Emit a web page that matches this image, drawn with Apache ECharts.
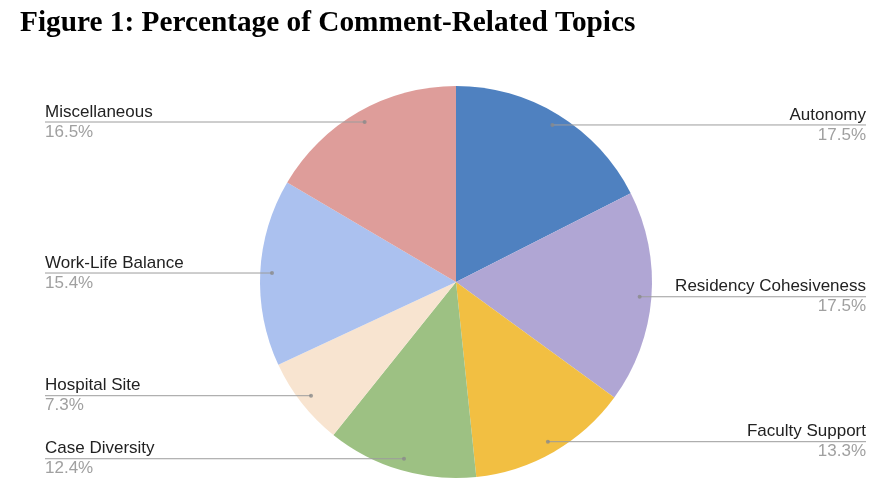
<!DOCTYPE html>
<html><head><meta charset="utf-8">
<script src="https://cdn.jsdelivr.net/npm/echarts@6/dist/echarts.min.js"></script>
<style>html,body{margin:0;padding:0;background:#fff}#c{width:896px;height:488px}</style>
</head><body><div id="c"></div>
<script>
var categories = ['Autonomy','Residency Cohesiveness','Faculty Support','Case Diversity','Hospital Site','Work-Life Balance','Miscellaneous'];
var values = [17.5, 17.5, 13.3, 12.4, 7.3, 15.4, 16.5];
var colors = ['#4f81c0','#b0a6d4','#f2bf42','#9dc183','#f8e4d0','#abc1ef','#de9d9a'];

var cx = 456, cy = 282, R = 196, DOT_R = 0.94;
var total = values.reduce(function(a,b){return a+b;},0);
var mids = []; var midPct = []; var acc = 0;
values.forEach(function(v){ var m = (acc + v/2)/total; mids.push(m*2*Math.PI); midPct.push(m*100); acc += v; });

var chart = echarts.init(document.getElementById('c'));
chart.setOption({
  animation: false,
  title: { text: 'Figure 1: Percentage of Comment-Related Topics', left: 15, top: 4,
    textStyle: { fontFamily: 'Liberation Serif', fontWeight: 'bold', fontSize: 29.3, color: '#000' } },
  polar: { center: [cx, cy], radius: R },
  angleAxis: { type: 'value', min: 0, max: 100, startAngle: 90, clockwise: true, show: false },
  radiusAxis: { type: 'value', min: 0, max: 1, show: false },
  series: [{
    type: 'pie', center: [cx, cy], radius: R, startAngle: 90, clockwise: true, z: 2,
    data: categories.map(function(n,i){ return {name:n, value:values[i], itemStyle:{color:colors[i]}}; }),
    label: { show: false }, labelLine: { show: false }
  }, {
    type: 'pie', center: [cx, cy], radius: R, startAngle: 90, clockwise: true, z: 5, silent: true,
    data: categories.map(function(n,i){ return {name:n, value:values[i]}; }),
    itemStyle: { color: 'rgba(0,0,0,0)', borderWidth: 0 },
    label: { show: true, position: 'outside', overflow: 'none',
      formatter: function(p){ return '{n|' + p.name + '}\n{p|' + p.value.toFixed(1) + '%}'; },
      rich: {
        n: { fontFamily: 'Liberation Sans', fontSize: 17, color: '#222', lineHeight: 20 },
        p: { fontFamily: 'Liberation Sans', fontSize: 17, color: '#a0a0a0', lineHeight: 20 }
      }
    },
    labelLine: { show: true, lineStyle: { color: '#9c9c9c', width: 1 } },
    labelLayout: function(p){
      var a = mids[p.dataIndex];
      var dx = cx + DOT_R*R*Math.sin(a), dy = cy - DOT_R*R*Math.cos(a);
      var left = Math.sin(a) < 0;
      var ex = left ? 45 : 866;
      return { x: ex, y: dy, align: left ? 'left' : 'right', verticalAlign: 'middle',
        labelLinePoints: [[dx,dy],[dx,dy],[ex,dy]] };
    }
  }, {
    type: 'scatter', coordinateSystem: 'polar', z: 6, silent: true,
    symbol: 'circle', symbolSize: 4,
    itemStyle: { color: '#8a8a8a' },
    data: midPct.map(function(m){ return [DOT_R, m]; })
  }]
});
</script></body></html>
